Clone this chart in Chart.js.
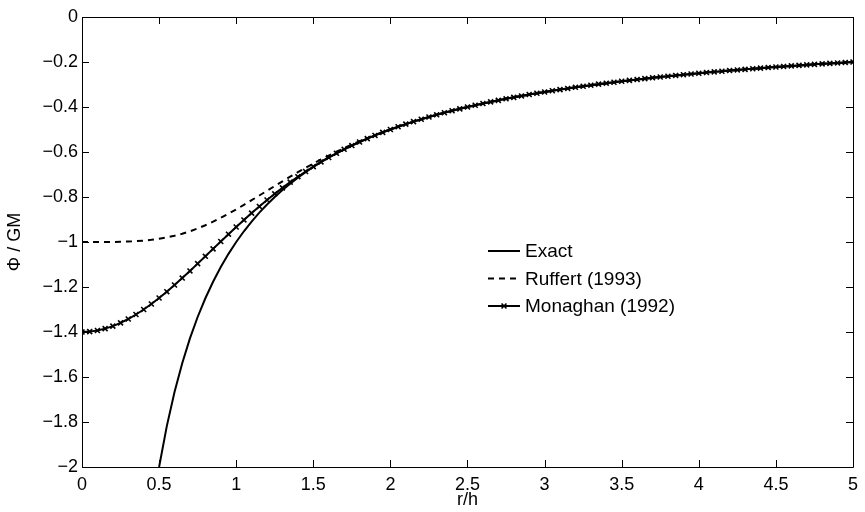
<!DOCTYPE html>
<html>
<head>
<meta charset="utf-8">
<script src="https://cdn.jsdelivr.net/npm/chart.js@4.4.0/dist/chart.umd.min.js"></script>
<style>
  body { margin: 0; background: #fff; }
  #wrap { width: 865px; height: 512px; }
</style>
</head>
<body>
<div id="wrap"><canvas id="potChart" width="865" height="512"></canvas></div>
<script>
(function () {
    "use strict";

    // r/h sample points (0 .. 5, step 0.05)
    var rGrid = [0, 0.05, 0.1, 0.15, 0.2, 0.25, 0.3, 0.35, 0.4, 0.45,
        0.5, 0.55, 0.6, 0.65, 0.7, 0.75, 0.8, 0.85, 0.9, 0.95,
        1, 1.05, 1.1, 1.15, 1.2, 1.25, 1.3, 1.35, 1.4, 1.45,
        1.5, 1.55, 1.6, 1.65, 1.7, 1.75, 1.8, 1.85, 1.9, 1.95,
        2, 2.05, 2.1, 2.15, 2.2, 2.25, 2.3, 2.35, 2.4, 2.45,
        2.5, 2.55, 2.6, 2.65, 2.7, 2.75, 2.8, 2.85, 2.9, 2.95,
        3, 3.05, 3.1, 3.15, 3.2, 3.25, 3.3, 3.35, 3.4, 3.45,
        3.5, 3.55, 3.6, 3.65, 3.7, 3.75, 3.8, 3.85, 3.9, 3.95,
        4, 4.05, 4.1, 4.15, 4.2, 4.25, 4.3, 4.35, 4.4, 4.45,
        4.5, 4.55, 4.6, 4.65, 4.7, 4.75, 4.8, 4.85, 4.9, 4.95, 5];

    // r = 0 .. 2 (41 values)
    var exactInner = [null, null, null, null, null, null, null, null, null, null,
        -2, -1.8182, -1.6667, -1.5385, -1.4286, -1.3333, -1.25, -1.1765, -1.1111, -1.0526,
        -1, -0.9524, -0.9091, -0.8696, -0.8333, -0.8, -0.7692, -0.7407, -0.7143, -0.6897,
        -0.6667, -0.6452, -0.625, -0.6061, -0.5882, -0.5714, -0.5556, -0.5405, -0.5263, -0.5128, -0.5];
    var ruffertInner = [-1, -1, -1, -0.9999, -0.9996, -0.9991, -0.998, -0.9964, -0.994, -0.9905,
        -0.9859, -0.9799, -0.9724, -0.9632, -0.9523, -0.9398, -0.9256, -0.9098, -0.8927, -0.8744,
        -0.855, -0.8349, -0.8143, -0.7933, -0.7722, -0.7512, -0.7304, -0.7099, -0.6899, -0.6705,
        -0.6516, -0.6333, -0.6158, -0.5989, -0.5827, -0.5671, -0.5522, -0.538, -0.5244, -0.5113, -0.4989];
    var monaghanInner = [-1.4, -1.3983, -1.3934, -1.3851, -1.3738, -1.3594, -1.3422, -1.3223, -1.3, -1.2755,
        -1.249, -1.2208, -1.1911, -1.1603, -1.1286, -1.0962, -1.0635, -1.0306, -0.9978, -0.9653,
        -0.9333, -0.902, -0.8715, -0.8419, -0.8133, -0.7858, -0.7593, -0.734, -0.7098, -0.6868,
        -0.6649, -0.6441, -0.6244, -0.6058, -0.5881, -0.5714, -0.5555, -0.5405, -0.5263, -0.5128, -0.5];
    // r = 2.05 .. 5, all three curves coincide here
    var tailPhi = [-0.4878, -0.4762, -0.4651, -0.4545, -0.4444, -0.4348, -0.4255, -0.4167, -0.4082, -0.4,
        -0.3922, -0.3846, -0.3774, -0.3704, -0.3636, -0.3571, -0.3509, -0.3448, -0.339, -0.3333,
        -0.3279, -0.3226, -0.3175, -0.3125, -0.3077, -0.303, -0.2985, -0.2941, -0.2899, -0.2857,
        -0.2817, -0.2778, -0.274, -0.2703, -0.2667, -0.2632, -0.2597, -0.2564, -0.2532, -0.25,
        -0.2469, -0.2439, -0.241, -0.2381, -0.2353, -0.2326, -0.2299, -0.2273, -0.2247, -0.2222,
        -0.2198, -0.2174, -0.2151, -0.2128, -0.2105, -0.2083, -0.2062, -0.2041, -0.202, -0.2];

    var seriesNames = ["Exact", "Ruffert (1993)", "Monaghan (1992)"];
    var xTicks = [0, 0.5, 1, 1.5, 2, 2.5, 3, 3.5, 4, 4.5, 5];
    var yTicks = [0, -0.2, -0.4, -0.6, -0.8, -1, -1.2, -1.4, -1.6, -1.8, -2];

    function toPoints(vals) {
        var pts = [];
        for (var i = 0; i < rGrid.length; i++) {
            pts.push({ x: rGrid[i], y: vals[i] });
        }
        return pts;
    }

    function fmt(v) {
        var s = String(Number(v.toFixed(2)));
        return s.replace("-", "\u2212");
    }

    // box + inward ticks, MATLAB style
    var boxPlugin = {
        id: "boxTicks",
        afterDatasetsDraw: function (chart) {
            var c = chart.ctx, a = chart.chartArea;
            var sx = chart.scales.x, sy = chart.scales.y;
            var len = 7;
            c.save();
            c.strokeStyle = "#000";
            c.lineWidth = 1;
            c.beginPath();
            c.rect(Math.round(a.left) + 0.5, Math.round(a.top) + 0.5,
                Math.round(a.right - a.left), Math.round(a.bottom - a.top));
            xTicks.forEach(function (t) {
                var px = Math.round(sx.getPixelForValue(t)) + 0.5;
                c.moveTo(px, a.bottom); c.lineTo(px, a.bottom - len);
                c.moveTo(px, a.top); c.lineTo(px, a.top + len);
            });
            yTicks.forEach(function (t) {
                var py = Math.round(sy.getPixelForValue(t)) + 0.5;
                c.moveTo(a.left, py); c.lineTo(a.left + len, py);
                c.moveTo(a.right, py); c.lineTo(a.right - len, py);
            });
            c.stroke();
            c.restore();
        },
        afterDraw: function (chart) {
            // legend drawn inside the axes
            var c = chart.ctx;
            var x0 = 488, x1 = 520, tx = 525;
            var rows = [251, 278.5, 306];
            c.save();
            chart.data.datasets.forEach(function (ds, i) {
                var y = rows[i];
                c.strokeStyle = "#000";
                c.lineWidth = ds.borderWidth;
                c.setLineDash(ds.borderDash || []);
                c.beginPath();
                c.moveTo(x0, y); c.lineTo(x1, y);
                c.stroke();
                c.setLineDash([]);
                if (ds.pointRadius > 0) {
                    c.lineWidth = ds.pointBorderWidth;
                    Chart.helpers.drawPoint(c, {
                        pointStyle: ds.pointStyle, radius: ds.pointRadius,
                        borderWidth: ds.pointBorderWidth, rotation: 0
                    }, (x0 + x1) / 2, y);
                }
                c.fillStyle = "#000";
                c.font = "19px 'Liberation Sans', Arial, sans-serif";
                c.textBaseline = "middle";
                c.textAlign = "left";
                c.fillText(ds.label, tx, y + 1);
            });
            c.restore();
        }
    };

    Chart.defaults.font.family = "'Liberation Sans', Arial, sans-serif";
    Chart.defaults.font.size = 18;
    Chart.defaults.color = "#000";

    var ctx = document.getElementById("potChart");
    var myChart = new Chart(ctx, {
        type: "line",
        data: {
            datasets: [{
                label: seriesNames[0],
                data: toPoints(exactInner.concat(tailPhi)),
                borderColor: "#000",
                borderWidth: 2,
                pointRadius: 0,
                tension: 0,
                spanGaps: false
            }, {
                label: seriesNames[1],
                data: toPoints(ruffertInner.concat(tailPhi)),
                borderColor: "#000",
                borderWidth: 2,
                borderDash: [6, 5],
                pointRadius: 0,
                tension: 0
            }, {
                label: seriesNames[2],
                data: toPoints(monaghanInner.concat(tailPhi)),
                borderColor: "#000",
                borderWidth: 2,
                pointStyle: "crossRot",
                pointRadius: 3.5,
                pointBorderWidth: 1.6,
                pointBorderColor: "#000",
                pointBackgroundColor: "#000",
                tension: 0
            }]
        },
        options: {
            responsive: false,
            animation: false,
            layout: { padding: { left: 0, right: 5, top: 17, bottom: 0 } },
            plugins: {
                legend: { display: false },
                tooltip: { enabled: false }
            },
            scales: {
                x: {
                    type: "linear",
                    min: 0,
                    max: 5,
                    afterFit: function (s) { s.height = 45; },
                    afterBuildTicks: function (s) {
                        s.ticks = xTicks.map(function (v) { return { value: v }; });
                    },
                    grid: { display: false, drawTicks: false },
                    border: { display: false },
                    ticks: {
                        padding: 7,
                        maxRotation: 0,
                        autoSkip: false,
                        callback: function (v) { return fmt(v); }
                    },
                    title: {
                        display: true,
                        text: "r/h",
                        padding: { top: 0, bottom: 1 }
                    }
                },
                y: {
                    type: "linear",
                    min: -2,
                    max: 0,
                    afterFit: function (s) { s.width = 82; },
                    afterBuildTicks: function (s) {
                        s.ticks = yTicks.map(function (v) { return { value: v }; });
                    },
                    grid: { display: false, drawTicks: false },
                    border: { display: false },
                    ticks: {
                        padding: 4,
                        autoSkip: false,
                        callback: function (v) { return fmt(v); }
                    },
                    title: {
                        display: true,
                        text: "\u03A6 / GM",
                        padding: { top: 4, bottom: 0 }
                    }
                }
            }
        },
        plugins: [boxPlugin]
    });
})();
</script>
</body>
</html>
